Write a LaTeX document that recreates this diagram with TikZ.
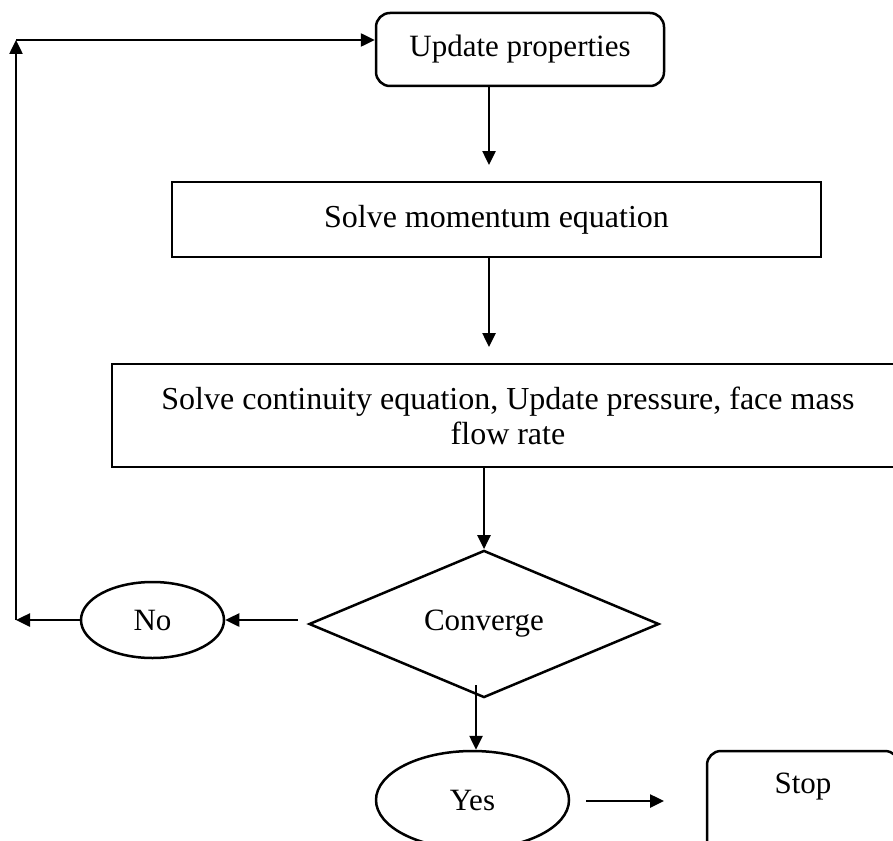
\documentclass[tikz,border=0pt]{standalone}
\usepackage{fontspec}
\setmainfont{Liberation Serif}
\usetikzlibrary{arrows.meta,shapes.geometric}
\begin{document}
\begin{tikzpicture}[x=1pt,y=-1pt,
  line width=2.5pt,
  every node/.style={font=\fontsize{31}{35}\selectfont, inner sep=0pt},
  bigtext/.style={font=\fontsize{32}{35}\selectfont},
  roundbox/.style={draw, rounded corners=14pt},
  plainbox/.style={draw},
  decision/.style={draw, diamond},
  oval/.style={draw, ellipse},
  arr/.style={-{Triangle[length=14pt,width=13pt]}}]
\useasboundingbox (0,0) rectangle (893,840);
\clip (0,0) rectangle (893,840);

% process boxes
\node[roundbox, minimum width=288pt, minimum height=73pt] (update) at (520,49.5) {Update properties};
\node[plainbox, bigtext, minimum width=649pt, minimum height=75pt] (momentum) at (496.5,219.5) {Solve momentum equation};
\node[plainbox, bigtext, align=center, minimum width=792pt, minimum height=103pt] (continuity) at (508,415.5)
  {Solve continuity equation, Update pressure, face mass\\flow rate};

% decision and outcomes
\node[decision, minimum width=350pt, minimum height=124pt] (conv) at (484,624) {Converge};
\node[oval, minimum width=143pt, minimum height=76pt] (no) at (152.5,620) {No};
\node[oval, minimum width=193pt, minimum height=98pt] (yes) at (472.5,800) {Yes};
\node[roundbox, minimum width=192pt, minimum height=130pt] (stop) at (803,816) {};
\node (stoptext) at (803,787) {Stop};

% connectors
\coordinate (c1) at (489,165);
\draw[arr] (update.south -| c1) -- (c1);
\coordinate (c2) at (489,347);
\draw[arr] (momentum.south -| c2) -- (c2);
\draw[arr] (continuity.south -| conv.north) -- (conv.north);
\coordinate (c3) at (298,620);
\draw[arr] (c3) -- (no.east);
\coordinate (c4) at (16,620);
\coordinate (corner) at (16,40);
\draw[arr] (no.west) -- (c4);
\draw[arr] (c4) -- (corner);
\draw[arr] (corner) -- (corner -| update.west);
\coordinate (c5) at (476,685);
\draw[arr] (c5) -- (c5 |- yes.north);
\coordinate (c6) at (586,801);
\coordinate (c7) at (664,801);
\draw[arr] (c6) -- (c7);
\end{tikzpicture}
\end{document}
